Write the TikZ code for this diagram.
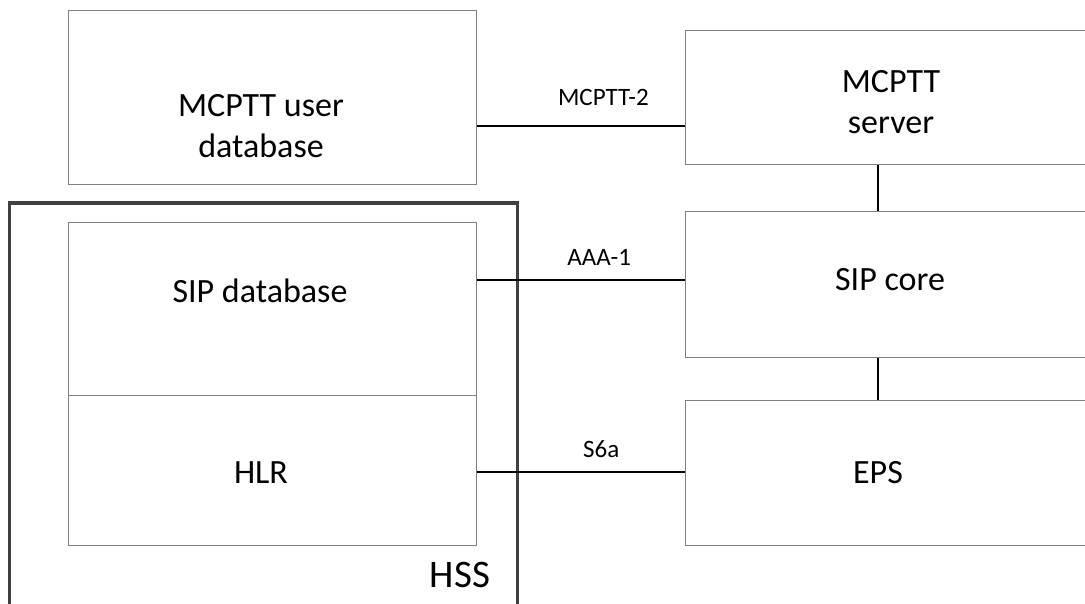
\documentclass[tikz,border=0pt]{standalone}
\usepackage{fontspec}
\setmainfont{Carlito}
\usetikzlibrary{calc}

\begin{document}
\begin{tikzpicture}[x=1pt,y=-1pt,
  box/.style={draw=black!50,line width=1pt,rectangle,inner sep=0pt},
  hssbox/.style={draw=black!75,line width=3.2pt,rectangle,inner sep=0pt},
  link/.style={black,line width=2.8pt},
  big/.style={font=\fontsize{34}{41}\selectfont,align=center,inner sep=0pt},
  iface/.style={font=\fontsize{25}{30}\selectfont,inner sep=0pt,anchor=base}]
\clip (0,0) rectangle (1085,603);
\fill[white] (0,0) rectangle (1085,603);
\node[hssbox,minimum width=508pt,minimum height=437pt] (hss) at (263.5,421.5) {};
\node[box,minimum width=408pt,minimum height=174pt] (udb) at (272,97) {};
\node[box,minimum width=408pt,minimum height=173pt] (sipdb) at (272,308.5) {};
\node[box,minimum width=408pt,minimum height=150pt] (hlr) at (272,470) {};
\node[box,minimum width=415pt,minimum height=134pt] (srv) at (892.5,97) {};
\node[box,minimum width=415pt,minimum height=146pt] (core) at (892.5,284) {};
\node[box,minimum width=415pt,minimum height=145pt] (eps) at (892.5,472.5) {};
\node[big] (udbtxt) at (261,126) {MCPTT user\\database};
\node[big,anchor=base] (siptxt) at (260,302) {SIP database};
\node[big,anchor=base] (hlrtxt) at (261,483) {HLR};
\node[big] (srvtxt) at (891,102.5) {MCPTT\\server};
\node[big,anchor=base] (coretxt) at (890,290) {SIP core};
\node[big,anchor=base] (epstxt) at (878,483) {EPS};
\node[font=\fontsize{39}{47}\selectfont,inner sep=0pt,anchor=base] (hsstxt) at (460,587) {HSS};
\coordinate (vx) at (878,0);
\path (udb.east) ++(0,29) coordinate (m2);
\path (sipdb.east) ++(0,-28.5) coordinate (a1);
\path (hlr.east) ++(0,2) coordinate (s6);
\draw[link] (m2) -- (m2 -| srv.west) node[iface,pos=0.61,yshift=21pt] (m2lbl) {MCPTT-2};
\draw[link] (a1) -- (a1 -| core.west) node[iface,pos=0.59,yshift=15pt] (a1lbl) {AAA-1};
\draw[link] (s6) -- (s6 -| eps.west) node[iface,pos=0.6,yshift=15pt] (s6lbl) {S6a};
\draw[link] (vx |- srv.south) -- (vx |- core.north);
\draw[link] (vx |- core.south) -- (vx |- eps.north);
\end{tikzpicture}
\end{document}
